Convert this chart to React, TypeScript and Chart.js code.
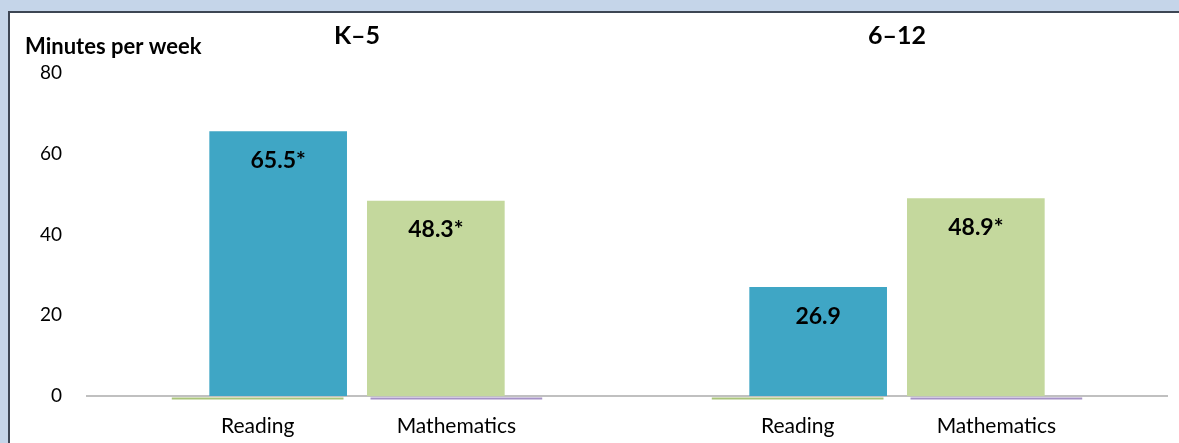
import React, { useEffect, useRef } from "react";
import { Chart, registerables } from "chart.js";

Chart.register(...registerables);

// ---- data ----
const groups = ["K–5", "6–12"];
const subjects = ["Reading", "Mathematics"];
const readingMinutes = [65.5, 26.9];
const mathMinutes = [48.3, 48.9];
const readingSignificant = [true, false];
const mathSignificant = [true, true];
const yTicks = [0, 20, 40, 60, 80];
const yAxisTitle = "Minutes per week";

// ---- layout helpers (x-units on a 0..10 linear axis) ----
const GROUP_SPAN = 5;
const BAR_OFFSET = 0.73;
const SLOT_OFFSET = 0.92;
const SLOT_HALF = 0.795;
const groupCenter = (g: number) => GROUP_SPAN * g + GROUP_SPAN / 2;

const FONT = "Lato";
const BLUE = "#3fa6c5";
const GREEN = "#c4d89d";
const SLOT_COLORS = ["#a9c47a", "#a592c6"];

const slotPositions: number[] = [];
groups.forEach((_, g) => {
  slotPositions.push(groupCenter(g) - SLOT_OFFSET);
  slotPositions.push(groupCenter(g) + SLOT_OFFSET);
});

const overlayPlugin = {
  id: "overlay",
  afterDatasetsDraw(chart: any) {
    const { ctx, scales } = chart;
    const xs = scales.x;
    const ys = scales.y;
    const zeroY = ys.getPixelForValue(0);
    ctx.save();
    // category slot lines under the axis
    slotPositions.forEach((p, i) => {
      ctx.strokeStyle = SLOT_COLORS[i % 2];
      ctx.lineWidth = 2;
      ctx.beginPath();
      ctx.moveTo(xs.getPixelForValue(p - SLOT_HALF), zeroY + 2.5);
      ctx.lineTo(xs.getPixelForValue(p + SLOT_HALF), zeroY + 2.5);
      ctx.stroke();
    });
    // value labels
    ctx.fillStyle = "#000";
    ctx.font = `bold 23px ${FONT}`;
    ctx.textAlign = "center";
    ctx.textBaseline = "middle";
    const sig = [readingSignificant, mathSignificant];
    const vals = [readingMinutes, mathMinutes];
    chart.data.datasets.forEach((_: any, di: number) => {
      const meta = chart.getDatasetMeta(di);
      meta.data.forEach((bar: any, i: number) => {
        const txt = vals[di][i].toFixed(1) + (sig[di][i] ? "*" : "");
        ctx.fillText(txt, bar.x, bar.y + 29);
      });
    });
    // group titles
    ctx.font = `bold 25px ${FONT}`;
    ctx.textBaseline = "alphabetic";
    groups.forEach((g, i) => {
      ctx.fillText(g, xs.getPixelForValue(groupCenter(i)), 31);
    });
    // y-axis title
    ctx.textAlign = "left";
    ctx.font = `bold 22px ${FONT}`;
    ctx.fillText(yAxisTitle, 15, 41);
    ctx.restore();
  },
};

export default function App() {
  const ref = useRef<HTMLCanvasElement | null>(null);

  useEffect(() => {
    if (!ref.current) return;
    Chart.defaults.font.family = FONT;
    const chart = new Chart(ref.current, {
      type: "bar",
      data: {
        datasets: [
          {
            label: subjects[0],
            data: groups.map((_, g) => ({ x: groupCenter(g) - BAR_OFFSET, y: readingMinutes[g] })),
            backgroundColor: BLUE,
          },
          {
            label: subjects[1],
            data: groups.map((_, g) => ({ x: groupCenter(g) + BAR_OFFSET, y: mathMinutes[g] })),
            backgroundColor: GREEN,
          },
        ],
      } as any,
      options: {
        animation: false,
        responsive: false,
        grouped: false,
        categoryPercentage: 1,
        barPercentage: 1,
        maxBarThickness: 137,
        layout: { padding: { top: 60, right: 12, left: 0, bottom: 0 } },
        plugins: { legend: { display: false }, tooltip: { enabled: false } },
        scales: {
          x: {
            type: "linear",
            min: 0,
            max: 10,
            offset: false,
            grid: { display: false, drawTicks: false },
            border: { display: true, color: "#c0c0c0", width: 2 },
            afterBuildTicks: (s: any) => {
              s.ticks = slotPositions.map((v) => ({ value: v }));
            },
            afterFit: (s: any) => {
              s.height = 47;
            },
            ticks: {
              autoSkip: false,
              maxRotation: 0,
              padding: 18,
              color: "#000",
              font: { size: 21, family: FONT },
              callback: (_v: any, i: number) => subjects[i % 2],
            },
          },
          y: {
            min: 0,
            max: 80,
            grid: { display: false, drawTicks: false },
            border: { display: false },
            afterBuildTicks: (s: any) => {
              s.ticks = yTicks.map((v) => ({ value: v }));
            },
            afterFit: (s: any) => {
              s.width = 77;
            },
            ticks: {
              padding: 25,
              color: "#000",
              font: { size: 19, family: FONT },
            },
          },
        },
      } as any,
      plugins: [overlayPlugin],
    });
    return () => chart.destroy();
  }, []);

  return (
    <div
      style={{
        position: "fixed",
        inset: 0,
        background: "#c5d5e9",
        overflow: "hidden",
      }}
    >
      <div
        style={{
          position: "absolute",
          left: 8,
          top: 11,
          right: 0,
          bottom: 0,
          background: "#fff",
          borderLeft: "2px solid #3d4654",
          borderTop: "2px solid #3d4654",
        }}
      >
        <canvas ref={ref} width={1169} height={430} style={{ display: "block" }} />
      </div>
    </div>
  );
}
